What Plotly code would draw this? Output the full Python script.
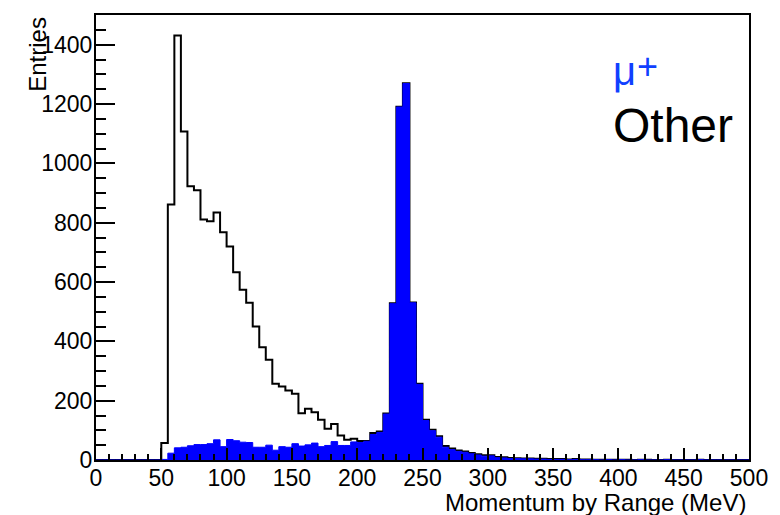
import numpy as np
import plotly.graph_objects as go

# ---- data -------------------------------------------------------------
bin_width = 5
bin_low_edges = list(range(0, 500, 5))  # 100 bins from 0 to 500 MeV

mu_plus_counts = [
    0, 0, 0, 0, 0, 0, 0, 0, 0, 0,
    2, 23, 41, 43, 48, 52, 52, 55, 68, 45,
    69, 65, 60, 59, 43, 43, 50, 33, 45, 43,
    55, 47, 51, 57, 45, 49, 62, 49, 49, 61,
    59, 63, 86, 93, 155, 527, 1190, 1269, 530, 255,
    133, 99, 77, 43, 35, 29, 26, 21, 17, 13,
    14, 8, 7, 5, 5, 4, 4, 3, 3, 2,
    2, 2, 1, 2, 1, 1, 1, 0, 1, 0,
    1, 0, 0, 1, 0, 0, 0, 1, 0, 0,
    0, 0, 1, 0, 0, 0, 0, 0, 0, 0,
]

other_outline_counts = [
    0, 0, 0, 0, 0, 0, 0, 0, 0, 0,
    57, 861, 1431, 1107, 923, 909, 811, 805, 834, 768,
    720, 633, 574, 530, 450, 380, 338, 257, 248, 234,
    223, 158, 173, 161, 136, 105, 121, 83, 68, 72,
    64, 64, 91, 96, 157, 528, 1191, 1270, 531, 257,
    136, 102, 80, 47, 39, 32, 29, 24, 19, 16,
    16, 10, 9, 7, 6, 5, 5, 4, 4, 3,
    3, 3, 2, 3, 2, 2, 1, 1, 1, 1,
    1, 1, 0, 1, 1, 0, 0, 1, 0, 0,
    0, 0, 1, 0, 0, 0, 0, 0, 0, 0,
]

x_ticks = [0, 50, 100, 150, 200, 250, 300, 350, 400, 450, 500]
y_ticks = [0, 200, 400, 600, 800, 1000, 1200, 1400]

legend_labels = ["μ", "+", "Other"]
x_title = "Momentum by Range (MeV)"
y_title = "Entries"

# ---- step outlines ------------------------------------------------------
edges = np.array(bin_low_edges + [bin_low_edges[-1] + bin_width], dtype=float)
mu_y = np.array(mu_plus_counts + [mu_plus_counts[-1]], dtype=float)
oth_y = np.array(other_outline_counts + [other_outline_counts[-1]], dtype=float)

FONT = "Liberation Sans, Arial, Helvetica, sans-serif"
BLUE = "#0000ff"

fig = go.Figure()
fig.add_trace(go.Scatter(
    x=edges, y=oth_y, mode="lines", line=dict(shape="hv", color="black", width=2),
    showlegend=False, hoverinfo="skip"))
fig.add_trace(go.Scatter(
    x=edges, y=mu_y, mode="lines", line=dict(shape="hv", color=BLUE, width=1),
    fill="tozeroy", fillcolor=BLUE, showlegend=False, hoverinfo="skip"))

axis_common = dict(
    showline=True, linecolor="black", linewidth=2, mirror=True,
    ticks="inside", tickcolor="black", tickwidth=2,
    showgrid=False, zeroline=False,
    tickfont=dict(family=FONT, size=23, color="black"),
)

fig.update_xaxes(range=[0, 500], tickvals=x_ticks, ticklen=12, ticklabelstandoff=-4,
                 minor=dict(ticks="inside", dtick=10, tick0=0, ticklen=6,
                            tickwidth=2, tickcolor="black", showgrid=False),
                 **axis_common)
fig.update_yaxes(range=[0, 1500], tickvals=y_ticks, ticklen=19, ticklabelstandoff=-3,
                 minor=dict(ticks="inside", dtick=50, tick0=0, ticklen=10,
                            tickwidth=2, tickcolor="black", showgrid=False),
                 **axis_common)

W, H = 780, 515
L, R, T, B = 96, 28, 15, 55
pw, ph = W - L - R, H - T - B

def px_to_paper(px, py):
    return (px - L) / pw, (H - B - py) / ph

annots = []
ax, ay = px_to_paper(37, 15)
annots.append(dict(text=y_title, textangle=-90, x=ax, y=1.0, xanchor="center",
                   yanchor="top", font=dict(family=FONT, size=24, color="black")))
ax, ay = px_to_paper(751, 502)
annots.append(dict(text=x_title, x=ax, y=ay, xanchor="right", yanchor="middle",
                   font=dict(family=FONT, size=24, color="black")))
ax, ay = px_to_paper(613, 71)
annots.append(dict(text=legend_labels[0], x=ax, y=ay, xanchor="left", yanchor="middle",
                   font=dict(family=FONT, size=40, color="#1040ff")))
ax, ay = px_to_paper(637, 66)
annots.append(dict(text=legend_labels[1], x=ax, y=ay, xanchor="left", yanchor="middle",
                   font=dict(family=FONT, size=36, color="#1040ff")))
ax, ay = px_to_paper(613, 125)
annots.append(dict(text=legend_labels[2], x=ax, y=ay, xanchor="left", yanchor="middle",
                   font=dict(family=FONT, size=48, color="black")))
for a in annots:
    a.update(xref="paper", yref="paper", showarrow=False)

fig.update_layout(
    width=W, height=H, autosize=False,
    margin=dict(l=L, r=R, t=T, b=B, pad=0),
    paper_bgcolor="white", plot_bgcolor="white",
    annotations=annots, showlegend=False,
)

fig.write_html("out.html")
